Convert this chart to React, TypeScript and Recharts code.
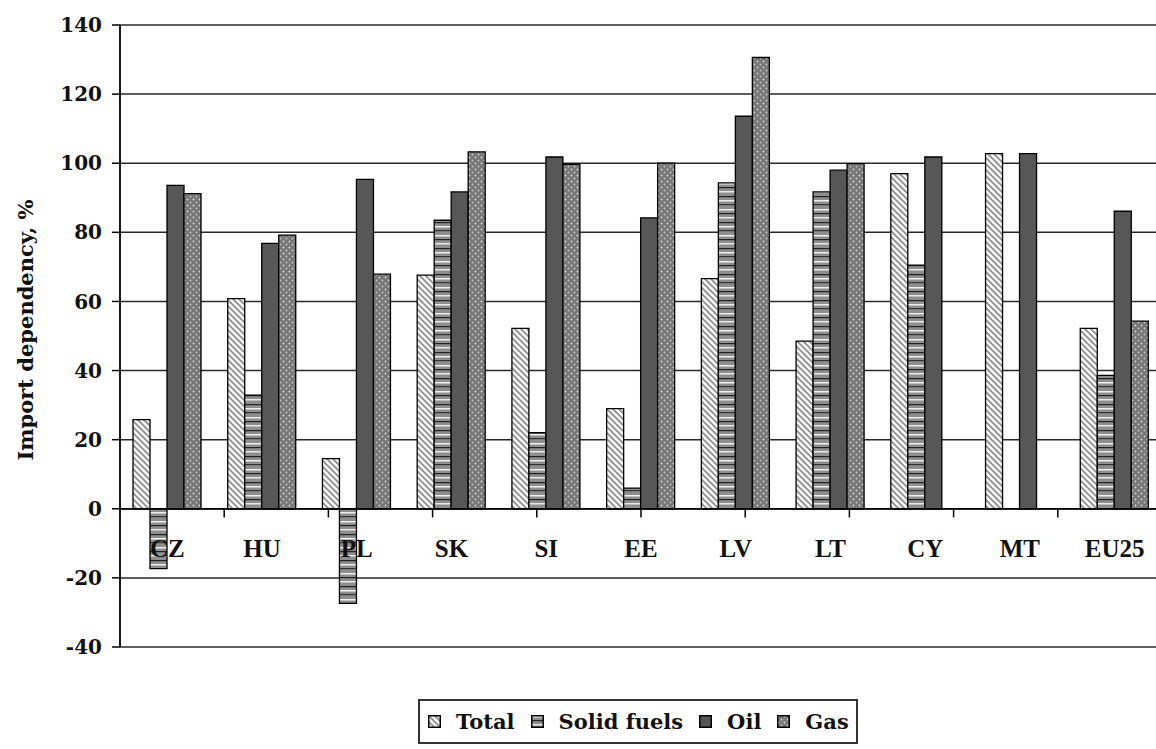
import React from 'react';
import { BarChart, Bar, XAxis, YAxis, CartesianGrid, ReferenceLine, Legend } from 'recharts';

const categories = ['CZ', 'HU', 'PL', 'SK', 'SI', 'EE', 'LV', 'LT', 'CY', 'MT', 'EU25'];
const totalValues = [25.8, 60.8, 14.5, 67.6, 52.2, 29.0, 66.6, 48.5, 97.0, 102.8, 52.2];
const solidValues = [-17.3, 32.9, -27.4, 83.5, 22.0, 6.0, 94.3, 91.7, 70.5, null, 38.6];
const oilValues = [93.6, 76.8, 95.3, 91.7, 101.8, 84.2, 113.6, 98.0, 101.8, 102.8, 86.1];
const gasValues = [91.2, 79.2, 67.9, 103.3, 99.7, 100.0, 130.6, 99.9, null, null, 54.3];
const yTicks = [-40, -20, 0, 20, 40, 60, 80, 100, 120, 140];
const boundaries = [1, 2, 3, 4, 5, 6, 7, 8, 9, 10];

const seriesInfo = [
  { key: 'total', name: 'Total', fill: 'url(#patTotal)' },
  { key: 'solid', name: 'Solid fuels', fill: 'url(#patSolid)' },
  { key: 'oil', name: 'Oil', fill: '#575757' },
  { key: 'gas', name: 'Gas', fill: 'url(#patGas)' },
];

const data = categories.map((c, i) => ({
  name: c,
  total: totalValues[i],
  solid: solidValues[i],
  oil: oilValues[i],
  gas: gasValues[i],
}));

const FONT = 'Liberation Serif';
const FONT2 = 'DejaVu Serif';

const renderCategoryTick = (props: any) => {
  const { x, y, payload } = props;
  return (
    <text
      x={x}
      y={y - 96}
      textAnchor="middle"
      fontFamily={FONT}
      fontWeight="bold"
      fontSize={25}
      fill="#111"
    >
      {payload.value}
    </text>
  );
};

const LegendContent = () => (
  <div
    style={{
      border: '2px solid #333',
      boxSizing: 'border-box',
      height: 45,
      display: 'flex',
      alignItems: 'center',
      paddingLeft: 8,
      fontFamily: FONT2,
      fontWeight: 'bold',
      fontSize: 21,
      color: '#111',
      background: '#fff',
      whiteSpace: 'nowrap',
    }}
  >
    {seriesInfo.map((s) => (
      <span key={s.key} style={{ display: 'inline-flex', alignItems: 'center', marginRight: 16 }}>
        <svg width={13} height={13} style={{ marginRight: 15 }}>
          <rect x={0.75} y={0.75} width={11.5} height={11.5} fill={s.fill} stroke="#000" strokeWidth={1.5} />
        </svg>
        {s.name}
      </span>
    ))}
  </div>
);

export default function App() {
  return (
    <div style={{ position: 'absolute', left: 0, top: 0, width: 1156, height: 749, overflow: 'hidden', background: '#fff' }}>
      <BarChart
        width={1170}
        height={749}
        data={data}
        margin={{ top: 25, right: 8, bottom: 72, left: 0 }}
        barSize={17}
        barGap={0}
      >
        <defs>
          <pattern id="patTotal" patternUnits="userSpaceOnUse" width={6} height={6}>
            <rect width={6} height={6} fill="#fafafa" />
            <path d="M-1,-1 L7,7 M-4,2 L2,8 M4,-2 L10,4" stroke="#8c8c8c" strokeWidth={1.6} />
          </pattern>
          <pattern id="patSolid" patternUnits="userSpaceOnUse" width={8} height={26}>
            <rect width={8} height={26} fill="#8e8e8e" />
            <rect y={1} width={8} height={1.5} fill="#f0f0f0" />
            <rect y={5} width={8} height={1.2} fill="#222" />
            <rect y={9} width={8} height={1.5} fill="#e8e8e8" />
            <rect y={14} width={8} height={1.2} fill="#222" />
            <rect y={18} width={8} height={1.5} fill="#f0f0f0" />
            <rect y={22} width={8} height={1.2} fill="#333" />
          </pattern>
          <pattern id="patGas" patternUnits="userSpaceOnUse" width={6} height={6}>
            <rect width={6} height={6} fill="#777" />
            <circle cx={1.5} cy={1.5} r={0.9} fill="#d8d8d8" />
            <circle cx={4.5} cy={4.5} r={0.9} fill="#c8c8c8" />
          </pattern>
        </defs>
        <CartesianGrid vertical={false} stroke="#2a2a2a" strokeWidth={1.5} />
        <XAxis
          dataKey="name"
          axisLine={false}
          tickLine={false}
          tick={renderCategoryTick}
          tickMargin={0}
          interval={0}
          height={30}
        />
        <XAxis xAxisId="n" type="number" domain={[0, 11]} hide />
        <YAxis
          width={120}
          domain={[-40, 140]}
          ticks={yTicks}
          interval={0}
          axisLine={{ stroke: '#000', strokeWidth: 1.8 }}
          tickLine={{ stroke: '#000', strokeWidth: 1.5 }}
          tickSize={8}
          tickMargin={10}
          tick={{ fontFamily: FONT2, fontWeight: 'bold', fontSize: 20, fill: '#111' }}
          label={(props: any) => {
            const vb = props.viewBox;
            const cx = 25;
            const cy = vb.y + vb.height / 2 - 6;
            return (
              <text
                transform={`translate(${cx}, ${cy}) rotate(-90)`}
                textAnchor="middle"
                dominantBaseline="central"
                fontFamily={FONT2}
                fontWeight="bold"
                fontSize={21}
                fill="#111"
              >
                Import dependency, %
              </text>
            );
          }}
        />
        {seriesInfo.map((s) => (
          <Bar
            key={s.key}
            dataKey={s.key}
            name={s.name}
            fill={s.fill}
            stroke="#000"
            strokeWidth={1.3}
            isAnimationActive={false}
          />
        ))}
        <ReferenceLine y={0} stroke="#000" strokeWidth={1.8} />
        {boundaries.map((b) => (
          <ReferenceLine
            key={b}
            xAxisId="n"
            segment={[{ x: b, y: 0 }, { x: b, y: -2.5 }]}
            stroke="#000"
            strokeWidth={1.5}
          />
        ))}
        <Legend
          layout="horizontal"
          verticalAlign="middle"
          align="center"
          content={<LegendContent />}
          wrapperStyle={{ top: 699, left: 418, width: 440, height: 45 }}
        />
      </BarChart>
    </div>
  );
}
